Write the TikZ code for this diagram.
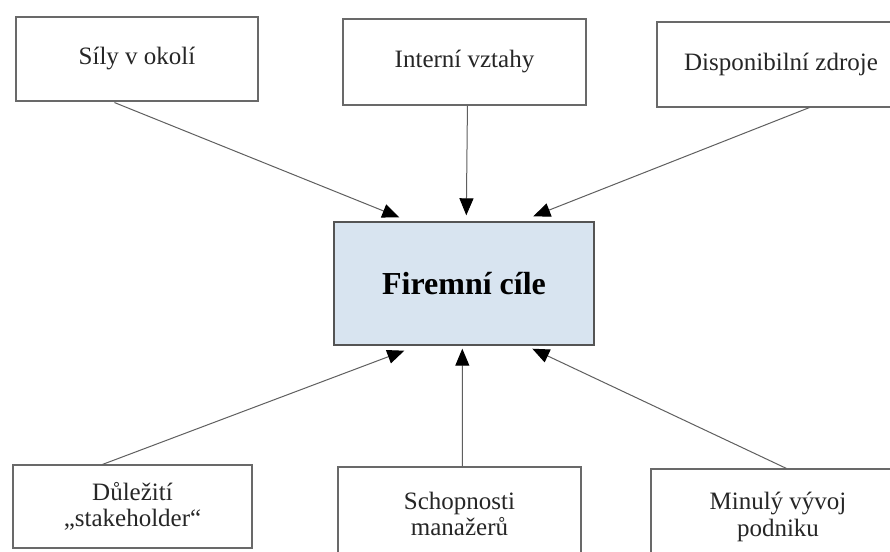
\documentclass[tikz,border=0pt]{standalone}
\usepackage{fontspec}
\setmainfont{Liberation Serif}
\usetikzlibrary{arrows.meta,calc}
\definecolor{boxline}{RGB}{105,105,105}
\definecolor{arrline}{RGB}{95,95,95}
\definecolor{goalfill}{RGB}{216,228,240}
\tikzset{
  factor/.style={draw=boxline, line width=1.1pt, rectangle, inner sep=0pt, align=center,
    font=\fontsize{25}{26.5}\selectfont, text=black!85},
  goal/.style={draw=boxline!80!black, line width=1.4pt, fill=goalfill, rectangle, inner sep=0pt,
    minimum width=260pt, minimum height=123pt, font=\fontsize{32}{36}\selectfont\bfseries},
  influence/.style={draw=arrline, line width=1pt, -{Triangle[length=17pt,width=14pt,fill=black,color=black]}}
}
\begin{document}
\begin{tikzpicture}[x=1pt,y=-1pt]
\useasboundingbox (0,0) rectangle (890,551);
\clip (0,0) rectangle (890,551);
\fill[white] (0,0) rectangle (890,551);
% factor boxes
\node[factor, minimum width=242pt, minimum height=84pt] (b1) at (137,59) {Síly v okolí};
\node[factor, minimum width=243pt, minimum height=86pt] (b2) at (464.5,62) {Interní vztahy};
\node[factor, minimum width=248pt, minimum height=85pt] (b3) at (781,64.5) {Disponibilní zdroje};
\node[factor, minimum width=239pt, minimum height=83pt] (b4) at (132.5,506.5) {Důležití\\„stakeholder“};
\node[factor, minimum width=243pt, minimum height=94pt] (b5) at (459.5,514) {Schopnosti\\manažerů};
\node[factor, minimum width=254pt, minimum height=96pt] (b6) at (778,517) {Minulý vývoj\\podniku};
% central goal
\node[goal] (c) at (464,283.5) {Firemní cíle};
% connectors
\draw[influence] ($(b1.south west)+(99,1)$) -- ($(c.north west)+(66,-4)$);
\draw[influence] ($(b2.south west)+(125,0)$) -- ($(c.north west)+(133,-6)$);
\draw[influence] ($(b3.south west)+(153,0)$) -- ($(c.north west)+(200,-5)$);
\draw[influence] ($(b4.north west)+(90,0)$) -- ($(c.south west)+(71,5)$);
\draw[influence] ($(b5.north west)+(125,0)$) -- ($(c.south west)+(129,3)$);
\draw[influence] ($(b6.north west)+(136,0)$) -- ($(c.south west)+(199,3)$);
\end{tikzpicture}
\end{document}
